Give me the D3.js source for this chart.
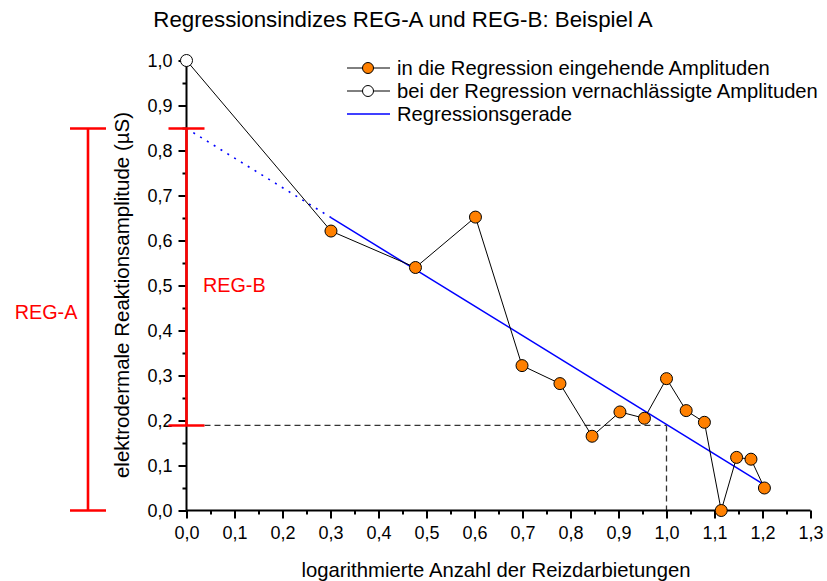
<!DOCTYPE html>
<html>
<head>
<meta charset="utf-8">
<script src="https://cdn.jsdelivr.net/npm/d3@7"></script>
<style>
  body { margin: 0; background: #fff; }
  svg { font-family: "Liberation Sans", Arial, sans-serif; }
</style>
</head>
<body>
<svg width="827" height="581"></svg>
<script>
// log10 of stimulus number 1..16 and the amplitude
var xLog = [0.000, 0.301, 0.477, 0.602, 0.699, 0.778, 0.845, 0.903, 0.954, 1.000, 1.041, 1.079, 1.114, 1.146, 1.176, 1.204];
var amp  = [1.000, 0.621, 0.540, 0.652, 0.322, 0.282, 0.165, 0.219, 0.205, 0.293, 0.222, 0.196, 0.000, 0.118, 0.114, 0.050];
var used = [false, true, true, true, true, true, true, true, true, true, true, true, true, true, true, true];

// regression line: solid part and its dotted extrapolation to x = 0
var regX = [0.301, 1.204];
var regY = [0.651, 0.057];
var extX = [0.000, 0.301];
var extY = [0.849, 0.651];

// index markers
var regA = [0.849, 0.000];
var regB = [0.849, 0.189];
var refX = 1.0;

var xTicks = d3.range(0, 14).map(function(i) { return i / 10; });
var yTicks = d3.range(0, 11).map(function(i) { return i / 10; });

var legendLabels = [
  "in die Regression eingehende Amplituden",
  "bei der Regression vernachlässigte Amplituden",
  "Regressionsgerade"
];

var svg = d3.select("svg");

var x = d3.scaleLinear().domain([0, 1.3]).range([186.5, 810.5]);
var y = d3.scaleLinear().domain([0, 1.0]).range([510.5, 60.5]);

var de = d3.formatLocale({ decimal: ",", thousands: ".", grouping: [3], currency: ["", "€"] });
var fmt = de.format(".1f");

// title
svg.append("text")
    .attr("x", 403).attr("y", 27)
    .attr("text-anchor", "middle")
    .attr("font-size", 22.3)
    .text("Regressionsindizes REG-A und REG-B: Beispiel A");

// dashed guide to x = 1
var dashes = svg.append("g")
    .attr("fill", "none")
    .attr("stroke", "#333")
    .attr("stroke-width", 1.3)
    .attr("stroke-dasharray", "6,4");
dashes.append("line")
    .attr("x1", x(0) + 18).attr("x2", x(refX))
    .attr("y1", y(regB[1])).attr("y2", y(regB[1]));
dashes.append("line")
    .attr("x1", x(refX)).attr("x2", x(refX))
    .attr("y1", y(regB[1])).attr("y2", y(0));

// axes
var xAxis = svg.append("g")
    .attr("transform", "translate(0," + y(0) + ")")
    .call(d3.axisBottom(x).tickValues(xTicks).tickFormat(fmt).tickSize(8).tickPadding(8));
svg.append("g")
    .attr("transform", "translate(0," + y(0) + ")")
    .call(d3.axisBottom(x).tickValues(d3.range(0, 13).map(function(i) { return i / 10 + 0.05; })).tickFormat("").tickSize(4))
    .select(".domain").remove();

var yAxis = svg.append("g")
    .attr("transform", "translate(" + x(0) + ",0)")
    .call(d3.axisLeft(y).tickValues(yTicks).tickFormat(fmt).tickSize(8).tickPadding(6));
svg.append("g")
    .attr("transform", "translate(" + x(0) + ",0)")
    .call(d3.axisLeft(y).tickValues(d3.range(0, 10).map(function(i) { return i / 10 + 0.05; })).tickFormat("").tickSize(4))
    .select(".domain").remove();

svg.selectAll(".domain").attr("stroke-width", 2);
svg.selectAll(".tick line").attr("stroke-width", 2);
svg.selectAll(".tick text").attr("font-size", 18).attr("font-family", "Liberation Sans, Arial, sans-serif").attr("fill", "#000");
xAxis.selectAll(".domain").attr("d", "M" + x(0) + ",0H" + x(1.3));
yAxis.selectAll(".domain").attr("d", "M0," + y(0) + "V" + y(1));

// axis titles
svg.append("text")
    .attr("x", 496).attr("y", 577)
    .attr("text-anchor", "middle")
    .attr("font-size", 20.3)
    .text("logarithmierte Anzahl der Reizdarbietungen");
svg.append("text")
    .attr("transform", "translate(129,295) rotate(-90)")
    .attr("text-anchor", "middle")
    .attr("font-size", 20.5)
    .text("elektrodermale Reaktionsamplitude (µS)");

// regression line
var line = d3.line().x(function(d) { return x(d[0]); }).y(function(d) { return y(d[1]); });
svg.append("path")
    .datum(d3.zip(extX, extY))
    .attr("d", line)
    .attr("fill", "none")
    .attr("stroke", "#0000ff")
    .attr("stroke-width", 1.6)
    .attr("stroke-dasharray", "2,6");
svg.append("path")
    .datum(d3.zip(regX, regY))
    .attr("d", line)
    .attr("fill", "none")
    .attr("stroke", "#0000ff")
    .attr("stroke-width", 1.5);

// red index bars
var red = svg.append("g").attr("stroke", "#ff0000").attr("stroke-width", 2.6).attr("fill", "none");
var regAx = 88;
red.append("line").attr("x1", regAx).attr("x2", regAx).attr("y1", y(regA[0])).attr("y2", y(regA[1]));
regA.forEach(function(v) {
  red.append("line").attr("x1", regAx - 18).attr("x2", regAx + 18).attr("y1", y(v)).attr("y2", y(v));
});
red.append("line").attr("x1", x(0)).attr("x2", x(0)).attr("y1", y(regB[0])).attr("y2", y(regB[1]));
regB.forEach(function(v) {
  red.append("line").attr("x1", x(0) - 18).attr("x2", x(0) + 18).attr("y1", y(v)).attr("y2", y(v));
});

svg.append("text")
    .attr("x", 46).attr("y", y(0.44)).attr("dy", "0.35em")
    .attr("text-anchor", "middle")
    .attr("font-size", 19.8)
    .attr("fill", "#ff0000")
    .text("REG-A");
svg.append("text")
    .attr("x", 203).attr("y", y(0.5)).attr("dy", "0.35em")
    .attr("font-size", 19.8)
    .attr("fill", "#ff0000")
    .text("REG-B");

// data line and markers
var pts = d3.zip(xLog, amp, used);
svg.append("path")
    .datum(pts)
    .attr("d", line)
    .attr("fill", "none")
    .attr("stroke", "#000")
    .attr("stroke-width", 1);
svg.append("g").selectAll("circle")
    .data(pts)
    .enter().append("circle")
    .attr("cx", function(d) { return x(d[0]); })
    .attr("cy", function(d) { return y(d[1]); })
    .attr("r", 6)
    .attr("fill", function(d) { return d[2] ? "#ff8000" : "#fff"; })
    .attr("stroke", "#000")
    .attr("stroke-width", 1);

// legend
var legend = svg.append("g").attr("font-size", 20.2);
legendLabels.forEach(function(label, i) {
  var ly = 68 + i * 23;
  var row = legend.append("g").attr("transform", "translate(0," + ly + ")");
  if (i < 2) {
    row.append("line").attr("x1", 347).attr("x2", 390).attr("y1", 0).attr("y2", 0)
        .attr("stroke", "#000").attr("stroke-width", 1);
    row.append("circle").attr("cx", 368).attr("cy", 0).attr("r", 5.5)
        .attr("fill", i == 0 ? "#ff8000" : "#fff").attr("stroke", "#000");
  } else {
    row.append("line").attr("x1", 347).attr("x2", 390).attr("y1", 0).attr("y2", 0)
        .attr("stroke", "#0000ff").attr("stroke-width", 1.5);
  }
  row.append("text").attr("x", 397).attr("y", 0).attr("dy", "0.35em").text(label);
});
</script>
</body>
</html>
